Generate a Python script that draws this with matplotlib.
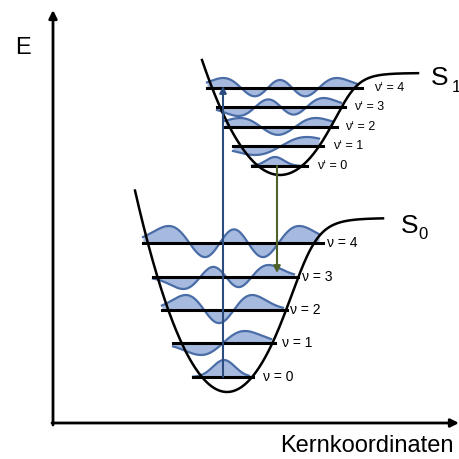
import numpy as np
import matplotlib.pyplot as plt
from numpy.polynomial.hermite import hermval

plt.rcParams['font.family'] = ['Liberation Sans', 'DejaVu Sans']

# Schema in Bildkoordinaten (x nach rechts, y nach unten)
# Grundzustand S0
s0_min = (227, 392)          # Minimum der Potentialkurve
s0_k = 0.0238                # Kruemmung
s0_depth = 174               # Dissoziationsenergie
s0_range = (135, 383)
s0_levels = [377, 343, 310, 277, 243]
s0_line_x0 = [193, 173, 162, 153, 143]
s0_line_x1 = [253, 275, 287, 298, 323]
s0_wf_center = [224, 223, 219, 226, 234]
s0_wf_width = [11, 22, 21, 21, 27]
s0_wf_amp = [17, 12, 15, 12, 17]
s0_labels = ["ν = 0", "ν = 1", "ν = 2", "ν = 3", "ν = 4"]
s0_label_x = [263, 282, 290, 302, 327]

# angeregter Zustand S1
s1_min = (280, 175)
s1_k = 0.0189
s1_depth = 102
s1_range = (202, 418)
s1_levels = [166, 146, 127, 107, 88]
s1_line_x0 = [252, 233, 225, 217, 207]
s1_line_x1 = [307, 323, 337, 345, 362]
s1_wf_center = [275, 281, 278, 281, 280]
s1_wf_width = [9, 26, 24, 21, 23.5]
s1_wf_amp = [9, 9, 9, 9, 10]
s1_labels = ["ν‘ = 0", "ν‘ = 1", "ν‘ = 2", "ν‘ = 3", "ν‘ = 4"]
s1_label_x = [317, 333, 345, 354, 374]

# Uebergaenge
absorption = (223, 377, 86)
emission = (277, 166, 273)

fill_col = "#A6BADF"
edge_col = "#4A6DA7"


def potential(x, xm, ym, k, D):
    d = x - xm
    v = k * d ** 2
    right = d > 0
    v[right] = v[right] / (1 + (v[right] / D) ** 4) ** 0.25
    return ym - v


def wavefunc(x, n, c, s):
    xi = (x - c) / s
    coef = np.zeros(n + 1)
    coef[n] = 1
    psi = hermval(xi, coef) * np.exp(-xi ** 2 / 2)
    return psi / np.abs(psi).max()


fig = plt.figure(figsize=(4.6, 4.59), dpi=100)
ax = fig.add_axes([0, 0, 1, 1])
ax.set_xlim(0, 460)
ax.set_ylim(459, 0)
ax.axis("off")

states = [
    (s0_min, s0_k, s0_depth, s0_range, s0_levels, s0_line_x0, s0_line_x1,
     s0_wf_center, s0_wf_width, s0_wf_amp, s0_labels, s0_label_x, 10),
    (s1_min, s1_k, s1_depth, s1_range, s1_levels, s1_line_x0, s1_line_x1,
     s1_wf_center, s1_wf_width, s1_wf_amp, s1_labels, s1_label_x, 9),
]

for (mn, k, D, rng, levels, lx0, lx1, wc, ww, amp, labels, labx, fs) in states:
    # Wellenfunktionen
    for n, y in enumerate(levels):
        xs = np.linspace(lx0[n], lx1[n] - 4, 300)
        psi = y - amp[n] * wavefunc(xs, n, wc[n], ww[n])
        ax.fill_between(xs, y, psi, color=fill_col, lw=0, zorder=1)
        ax.plot(xs, psi, color=edge_col, lw=1.6, zorder=2)
        ax.plot([lx0[n], lx1[n]], [y, y], color="black", lw=2.2, zorder=3)
        ax.text(labx[n], y, labels[n], fontsize=fs, va="center", ha="left")
    # Potentialkurve
    xs = np.linspace(rng[0], rng[1], 400)
    ax.plot(xs, potential(xs, mn[0], mn[1], k, D), color="black", lw=1.8, zorder=3)

# Absorption (blau) und Emission (gruen)
ax.annotate("", xy=(absorption[0], absorption[2]), xytext=(absorption[0], absorption[1]),
            arrowprops=dict(arrowstyle="-|>", color="#2B4C7E", lw=1.5,
                            mutation_scale=10, shrinkA=0, shrinkB=0), zorder=4)
ax.annotate("", xy=(emission[0], emission[2]), xytext=(emission[0], emission[1]),
            arrowprops=dict(arrowstyle="-|>", color="#4F6228", lw=1.5,
                            mutation_scale=10, shrinkA=0, shrinkB=0), zorder=4)

# Achsen
ax.annotate("", xy=(53, 10), xytext=(53, 425),
            arrowprops=dict(arrowstyle="-|>", color="black", lw=2,
                            mutation_scale=12, shrinkA=0, shrinkB=0))
ax.annotate("", xy=(459, 423), xytext=(52, 423),
            arrowprops=dict(arrowstyle="-|>", color="black", lw=2,
                            mutation_scale=12, shrinkA=0, shrinkB=0))

ax.text(15, 54, "E", fontsize=17, va="baseline", ha="left")
ax.text(454, 452, "Kernkoordinaten", fontsize=17, va="baseline", ha="right")

ax.text(431, 85, "S", fontsize=19, va="baseline", ha="left")
ax.text(452, 92, "1", fontsize=12, va="baseline", ha="left")
ax.text(401, 233, "S", fontsize=19, va="baseline", ha="left")
ax.text(418, 239, "0", fontsize=12, va="baseline", ha="left")

fig.savefig("out.png", dpi=100)
